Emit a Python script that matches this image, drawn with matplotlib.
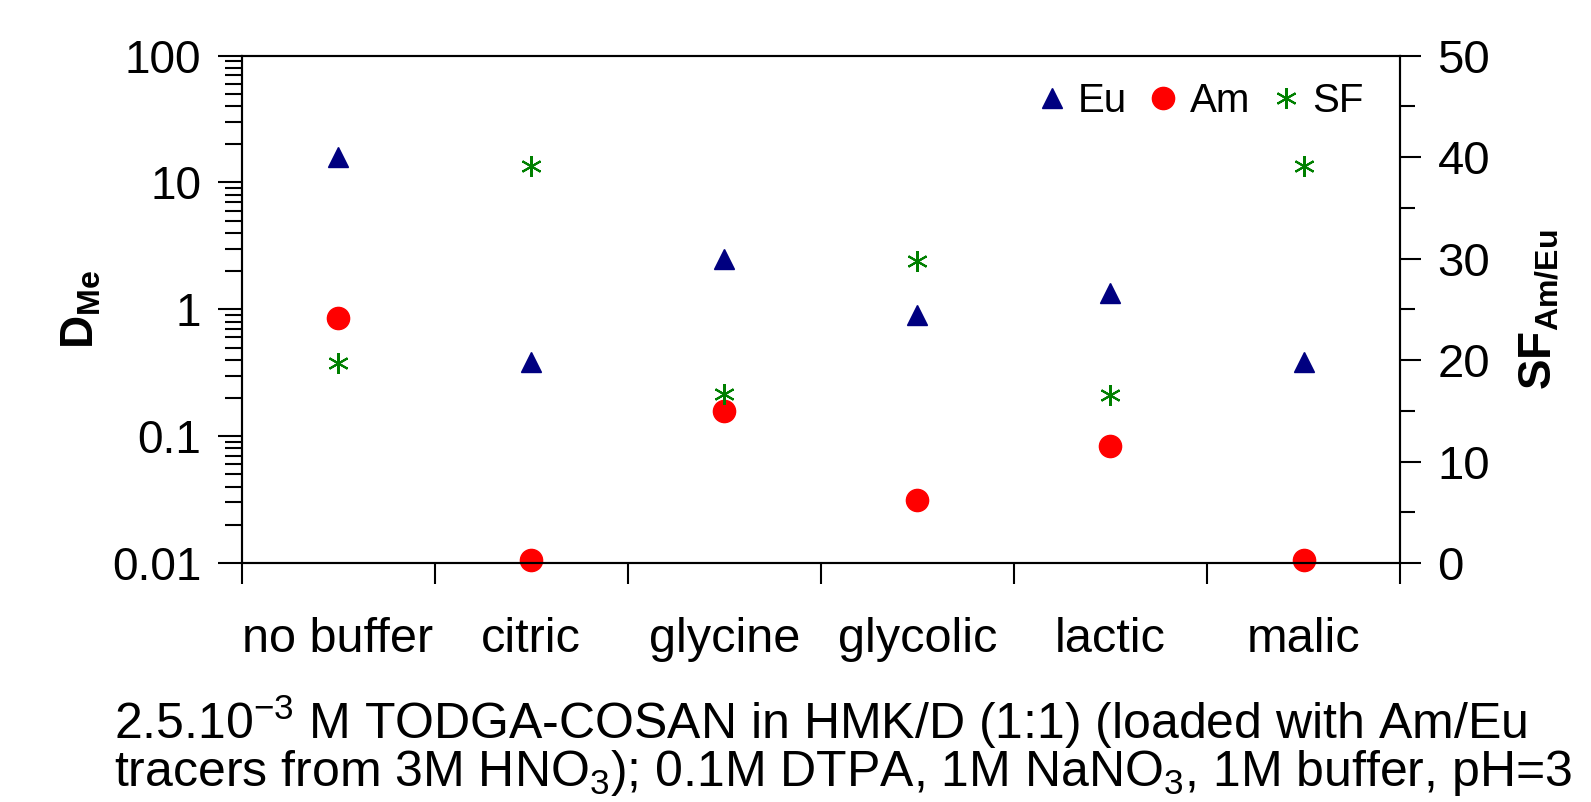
import numpy as np
import matplotlib
matplotlib.use("Agg")
import matplotlib.pyplot as plt
from matplotlib.ticker import FixedLocator, NullFormatter, MultipleLocator

plt.rcParams['font.family'] = ['Liberation Sans', 'DejaVu Sans']
plt.rcParams['mathtext.fontset'] = 'custom'
plt.rcParams['mathtext.rm'] = 'Liberation Sans'
plt.rcParams['mathtext.bf'] = 'Liberation Sans:bold'

# Daten
buffers = ['no buffer', 'citric', 'glycine', 'glycolic', 'lactic', 'malic']
d_eu = [15.8, 0.385, 2.5, 0.9, 1.34, 0.385]
d_am = [0.85, 0.0105, 0.157, 0.0313, 0.083, 0.0105]
sf = [19.7, 39.1, 16.7, 29.8, 16.6, 39.1]

x = np.arange(len(buffers)) + 0.5

fig = plt.figure(figsize=(15.91, 8.02), dpi=100)
ax = fig.add_axes([0.1518, 0.298, 0.7282, 0.6326])
ax2 = ax.twinx()

h_eu, = ax.plot(x, d_eu, linestyle='none', marker='^', ms=15, color='#000080',
                clip_on=False, label='Eu')
h_am, = ax.plot(x, d_am, linestyle='none', marker='o', ms=16, color='#ff0000',
                clip_on=False, label='Am')
h_sf, = ax2.plot(x, sf, linestyle='none', marker=(6, 2, 0), ms=15, mew=1.5,
                 color='#008000', clip_on=False, label='SF')

# linke Achse (log)
ax.set_yscale('log')
ax.set_ylim(0.01, 100)
ax.set_yticks([0.01, 0.1, 1, 10, 100])
ax.set_yticklabels(['0.01', '0.1', '1', '10', '100'])
ax.yaxis.set_minor_formatter(NullFormatter())
ax.set_xlim(0, 6)
ax.xaxis.set_major_locator(FixedLocator(range(7)))
ax.xaxis.set_major_formatter(NullFormatter())
ax.xaxis.set_minor_locator(FixedLocator(x))
ax.set_xticklabels(buffers, minor=True)
ax.tick_params(axis='x', which='major', direction='out', length=15, width=1.5)
ax.tick_params(axis='x', which='minor', length=0, pad=39, labelsize=35)
ax.tick_params(axis='y', which='major', direction='out', length=17, width=1.5,
               labelsize=33, pad=12)
ax.tick_params(axis='y', which='minor', direction='out', length=12, width=1.5)
ax.tick_params(right=False, top=False)

# rechte Achse (SF)
ax2.set_ylim(0, 50)
ax2.yaxis.set_major_locator(MultipleLocator(10))
ax2.yaxis.set_minor_locator(MultipleLocator(5))
ax2.tick_params(axis='y', which='major', direction='out', length=15, width=1.5,
                labelsize=34, pad=12)
ax2.tick_params(axis='y', which='minor', direction='out', length=11, width=1.5)

for a in (ax, ax2):
    for s in a.spines.values():
        s.set_linewidth(1.5)

ax.set_ylabel(r'D$_{\mathbf{Me}}$', fontsize=33, fontweight='bold', labelpad=6)
ax2.set_ylabel(r'SF$_{\mathbf{Am/Eu}}$', fontsize=33, fontweight='bold', labelpad=19)

ax.legend(handles=[h_eu, h_am, h_sf], loc='upper right', ncol=3, frameon=False,
          fontsize=29, handletextpad=0.2, columnspacing=0.45, handlelength=0.9,
          bbox_to_anchor=(1.0, 1.02), markerscale=1.0)

fig.text(0.0716, 0.0786, r'2.5.10$^{\mathregular{-3}}$ M TODGA-COSAN in HMK/D (1:1) (loaded with Am/Eu',
         fontsize=36, ha='left', va='baseline')
fig.text(0.0716, 0.02, r'tracers from 3M HNO$_{\mathregular{3}}$); 0.1M DTPA, 1M NaNO$_{\mathregular{3}}$, 1M buffer, pH=3',
         fontsize=36, ha='left', va='baseline')

fig.savefig('out.png', dpi=100)
